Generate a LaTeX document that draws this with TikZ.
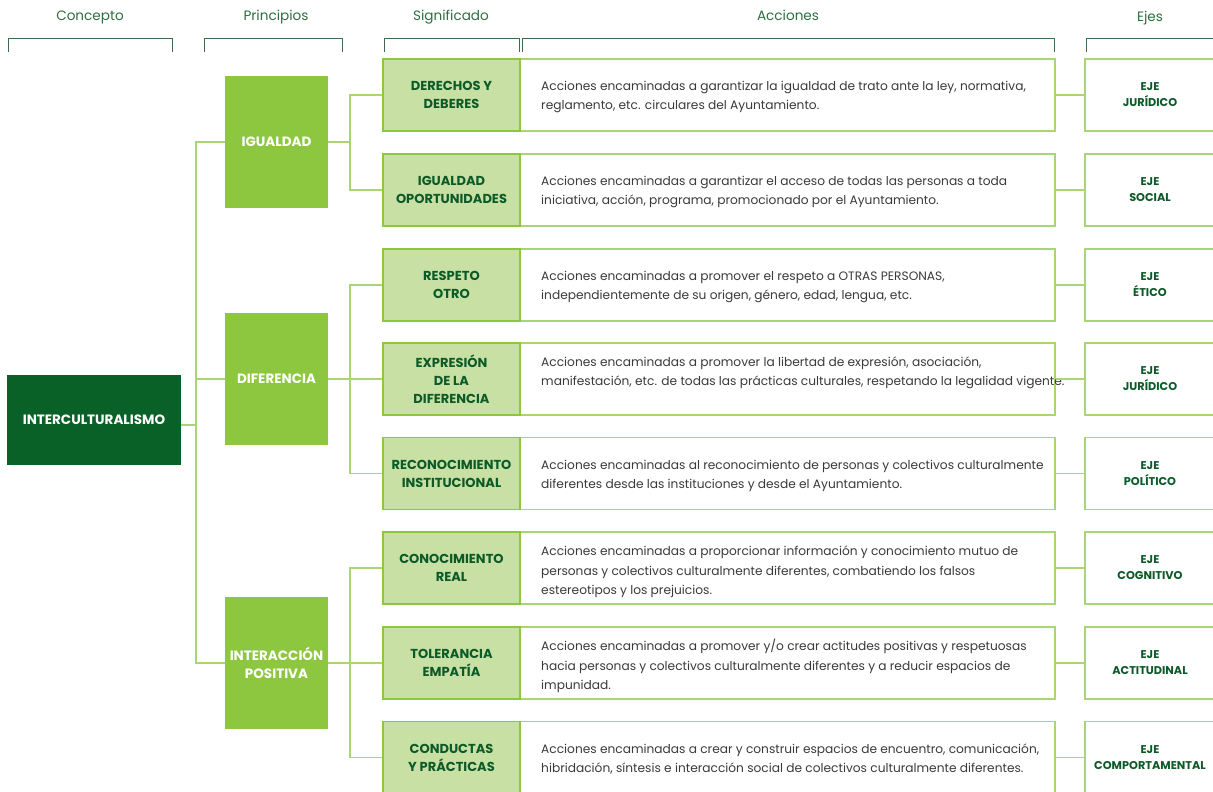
\documentclass[tikz,border=0pt]{standalone}
\usepackage{fontspec}
\setmainfont{Poppins}
\definecolor{dkgreen}{HTML}{0A6127}
\definecolor{lbltext}{HTML}{0B5A28}
\definecolor{midgreen}{HTML}{8DC63F}
\definecolor{palegreen}{HTML}{C8E0A4}
\definecolor{linegreen}{HTML}{A9D574}
\definecolor{hdrgreen}{HTML}{2F6F3F}
\definecolor{hdrline}{HTML}{3F6B4C}
\definecolor{bodytext}{HTML}{3A3A3A}
\tikzset{
  conn/.style={draw=linegreen, line width=1.3pt},
  hdr/.style={anchor=base, inner sep=0pt, text=hdrgreen, font=\fontsize{13.6}{15}\selectfont},
  bracketline/.style={draw=hdrline, line width=0.9pt},
  actbox/.style={draw=linegreen, fill=white, line width=1.2pt, minimum width=535pt, minimum height=72pt, inner sep=0pt},
  sigbox/.style={draw=midgreen, fill=palegreen, line width=1.2pt, minimum width=137pt, minimum height=72pt, inner sep=0pt, align=center, text=lbltext, font=\fontsize{13}{18}\selectfont\bfseries},
  acttext/.style={anchor=west, align=left, inner sep=0pt, text=bodytext, font=\fontsize{12.2}{19.6}\selectfont},
  ejebox/.style={draw=linegreen, fill=white, line width=1.2pt, minimum width=130pt, minimum height=72pt, inner sep=0pt, align=center, text=lbltext, font=\fontsize{11.3}{16}\selectfont\bfseries},
  princbox/.style={fill=midgreen, minimum width=103pt, minimum height=132pt, inner sep=0pt, align=center, text=white, font=\fontsize{13.5}{18}\selectfont\bfseries},
  conceptbox/.style={fill=dkgreen, minimum width=174pt, minimum height=90pt, inner sep=0pt, align=center, text=white, font=\fontsize{13.5}{18}\selectfont\bfseries}
}
\newcommand\myrow[6]{%
  \node[actbox] (a#1) at (787.5,#2) {};
  \node[sigbox] (s#1) at (451.5,#2) {#3};
  \node[acttext] (t#1) at (541,#6) {#4};
  \node[ejebox] (e#1) at (1150,#2) {#5};
  \draw[conn] (a#1.east) -- (e#1.west);
}
\begin{document}
\begin{tikzpicture}[x=1pt,y=-1pt]
\useasboundingbox (0,0) rectangle (1213,792);
\fill[white] (0,0) rectangle (1213,792);
% headers
\node[hdr] (h1) at (90,21) {Concepto};
\node[hdr] (h2) at (276,21) {Principios};
\node[hdr] (h3) at (451,21) {Significado};
\node[hdr] (h4) at (788,21) {Acciones};
\node[hdr] (h5) at (1150,22) {Ejes};
\draw[bracketline] (8,52) -- (8,38) -- (172,38) -- (172,52);
\draw[bracketline] (204,52) -- (204,38) -- (342,38) -- (342,52);
\draw[bracketline] (384,52) -- (384,38) -- (519,38) -- (519,52);
\draw[bracketline] (522,52) -- (522,38) -- (1054,38) -- (1054,52);
\draw[bracketline] (1086,52) -- (1086,38) -- (1220,38);
% rows
\myrow{1}{95}{DERECHOS Y\\DEBERES}{Acciones encaminadas a garantizar la igualdad de trato ante la ley, normativa,\\reglamento, etc. circulares del Ayuntamiento.}{EJE\\JURÍDICO}{97}
\myrow{2}{190}{IGUALDAD\\OPORTUNIDADES}{Acciones encaminadas a garantizar el acceso de todas las personas a toda\\iniciativa, acción, programa, promocionado por el Ayuntamiento.}{EJE\\SOCIAL}{192}
\myrow{3}{285}{RESPETO\\OTRO}{Acciones encaminadas a promover el respeto a OTRAS PERSONAS,\\independientemente de su origen, género, edad, lengua, etc.}{EJE\\ÉTICO}{287}
\myrow{4}{379}{EXPRESIÓN\\DE LA\\DIFERENCIA}{Acciones encaminadas a promover la libertad de expresión, asociación,\\manifestación, etc. de todas las prácticas culturales, respetando la legalidad vigente.}{EJE\\JURÍDICO}{373}
\myrow{5}{473.5}{RECONOCIMIENTO\\INSTITUCIONAL}{Acciones encaminadas al reconocimiento de personas y colectivos culturalmente\\diferentes desde las instituciones y desde el Ayuntamiento.}{EJE\\POLÍTICO}{476}
\myrow{6}{568}{CONOCIMIENTO\\REAL}{Acciones encaminadas a proporcionar información y conocimiento mutuo de\\personas y colectivos culturalmente diferentes, combatiendo los falsos\\estereotipos y los prejuicios.}{EJE\\COGNITIVO}{572}
\myrow{7}{663}{TOLERANCIA\\EMPATÍA}{Acciones encaminadas a promover y/o crear actitudes positivas y respetuosas\\hacia personas y colectivos culturalmente diferentes y a reducir espacios de\\impunidad.}{EJE\\ACTITUDINAL}{666}
\myrow{8}{757.5}{CONDUCTAS\\Y PRÁCTICAS}{Acciones encaminadas a crear y construir espacios de encuentro, comunicación,\\hibridación, síntesis e interacción social de colectivos culturalmente diferentes.}{EJE\\COMPORTAMENTAL}{759}
% principles
\node[princbox] (igual) at (276.5,142) {IGUALDAD};
\node[princbox] (dif) at (276.5,379) {DIFERENCIA};
\node[princbox] (intpos) at (276.5,663) {INTERACCIÓN\\POSITIVA};
\node[conceptbox] (inter) at (94,420) {INTERCULTURALISMO};
% connectors
\coordinate (j0) at (196,425);
\coordinate (j1) at (350,142);
\coordinate (j2) at (350,379);
\coordinate (j3) at (350,663);
\draw[conn] ([yshift=-5pt]inter.east) -- (j0);
\draw[conn] (igual.west) -| (j0) |- (intpos.west);
\draw[conn] (dif.west) -- (dif.west -| j0);
\draw[conn] (igual.east) -- (j1);
\draw[conn] (s1.west) -| (j1) |- (s2.west);
\draw[conn] (dif.east) -- (j2);
\draw[conn] (s3.west) -| (j2) |- (s5.west);
\draw[conn] (j2) -- (s4.west);
\draw[conn] (intpos.east) -- (j3);
\draw[conn] (s6.west) -| (j3) |- (s8.west);
\draw[conn] (j3) -- (s7.west);
\end{tikzpicture}
\end{document}
